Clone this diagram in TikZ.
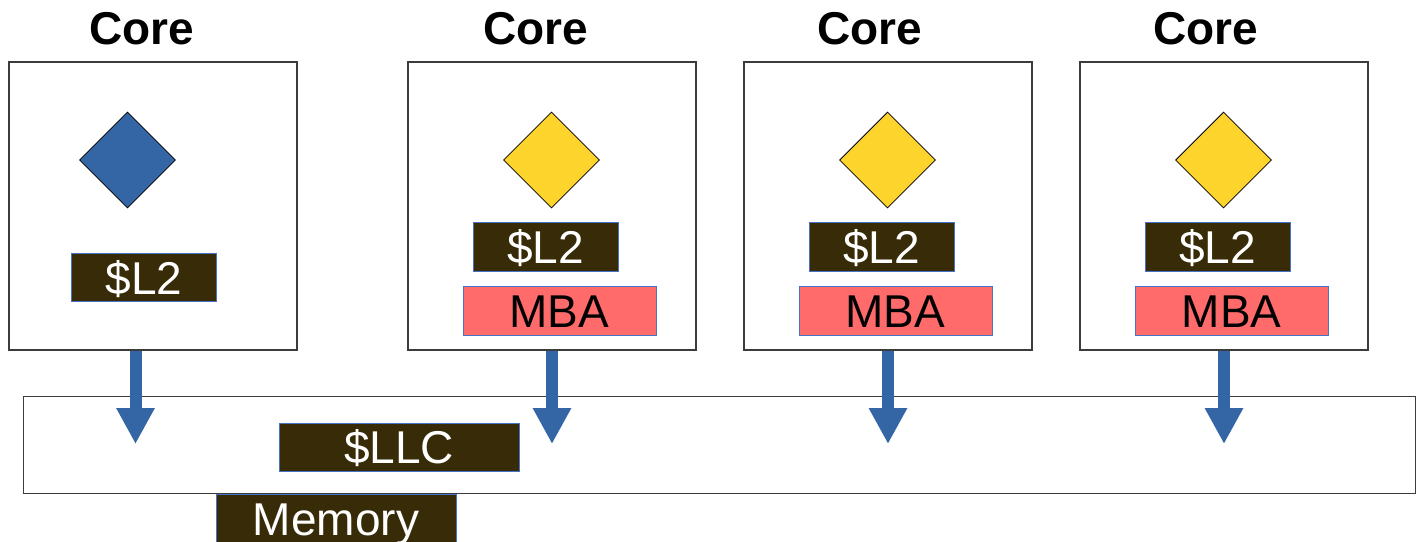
\documentclass[tikz,border=0pt]{standalone}
\usepackage{fontspec}
\setmainfont{Liberation Sans}
\usetikzlibrary{shapes.geometric,arrows.meta}

\definecolor{flowblue}{RGB}{52,101,164}
\definecolor{tokenyellow}{RGB}{253,212,44}
\definecolor{cachedark}{RGB}{56,43,8}
\definecolor{mbared}{RGB}{255,107,107}
\definecolor{tagedge}{RGB}{68,114,196}
\definecolor{frame}{RGB}{60,60,60}

\tikzset{
  corebox/.style={draw=frame, line width=0.75pt, fill=white, minimum width=144pt,
    minimum height=144pt, inner sep=0pt},
  corelabel/.style={font=\fontsize{23}{23}\selectfont\bfseries, inner sep=0pt,
    text height=16.5pt, text depth=0pt},
  token/.style={diamond, draw=black, line width=0.4pt, minimum width=48pt,
    minimum height=48pt, inner sep=0pt},
  cachetag/.style={draw=tagedge, line width=0.5pt, fill=cachedark, text=white,
    inner sep=0pt, minimum width=72.5pt, minimum height=24.25pt,
    font=\fontsize{23}{23}\selectfont, text height=16.5pt, text depth=0pt},
  mbatag/.style={draw=tagedge, line width=0.5pt, fill=mbared, text=black,
    inner sep=0pt, minimum width=96.5pt, minimum height=24.5pt,
    font=\fontsize{23}{23}\selectfont, text height=16.5pt, text depth=0pt},
  widetag/.style={cachetag, minimum width=120pt},
  flow/.style={draw=flowblue, line width=6pt,
    -{Triangle[length=18pt, width=18pt, fill=flowblue]}},
}

\begin{document}
\begin{tikzpicture}[x=0.5pt, y=-0.5pt]
  \useasboundingbox (0,0) rectangle (1416,541);
  \clip (0,0) rectangle (1416,541);

  % shared last-level cache bar
  \node[draw=frame, line width=0.75pt, fill=white, minimum width=696pt,
        minimum height=48.5pt, inner sep=0pt] (llcbar) at (719.5,445) {};

  % cores
  \node[corebox] (core1) at (153,206) {};
  \node[corebox] (core2) at (552,206) {};
  \node[corebox] (core3) at (888,206) {};
  \node[corebox] (core4) at (1224,206) {};

  \node[corelabel] (lab1) at (142,27.5) {Core};
  \node[corelabel] (lab2) at (535.5,27.5) {Core};
  \node[corelabel] (lab3) at (869.5,27.5) {Core};
  \node[corelabel] (lab4) at (1205.5,27.5) {Core};

  % tokens held by each core
  \node[token, fill=flowblue] (tok1) at (127.5,160) {};
  \node[token, fill=tokenyellow] (tok2) at (551.5,160) {};
  \node[token, fill=tokenyellow] (tok3) at (887.5,160) {};
  \node[token, fill=tokenyellow] (tok4) at (1223.5,160) {};

  % private L2 caches
  \node[cachetag] (l2a) at (144,277.5) {\$L2};
  \node[cachetag] (l2b) at (545.5,247) {\$L2};
  \node[cachetag] (l2c) at (881.5,247) {\$L2};
  \node[cachetag] (l2d) at (1217.5,247) {\$L2};

  % memory bandwidth allocation tags
  \node[mbatag] (mba2) at (559.5,310.5) {MBA};
  \node[mbatag] (mba3) at (895.5,310.5) {MBA};
  \node[mbatag] (mba4) at (1231.5,310.5) {MBA};

  % shared cache and memory
  \node[widetag, minimum height=24pt] (llc) at (399,447) {\$LLC};
  \node[widetag] (mem) at (336,518.5) {Memory};

  % traffic from each core into the shared cache
  \coordinate (tip1) at (135.5,444);
  \coordinate (tip2) at (552,444);
  \coordinate (tip3) at (888,444);
  \coordinate (tip4) at (1224,444);
  \draw[flow] (core1.south -| tip1) -- (tip1);
  \draw[flow] (core2.south -| tip2) -- (tip2);
  \draw[flow] (core3.south -| tip3) -- (tip3);
  \draw[flow] (core4.south -| tip4) -- (tip4);
\end{tikzpicture}
\end{document}
